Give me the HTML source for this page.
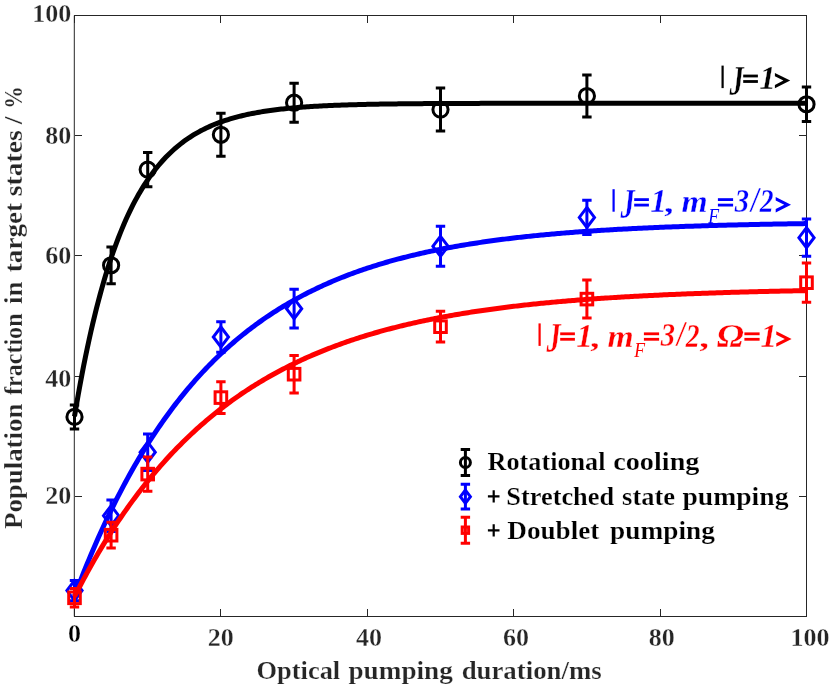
<!DOCTYPE html>
<html><head><meta charset="utf-8"><title>Optical pumping</title>
<style>html,body{margin:0;padding:0;background:#fff;}body{width:830px;height:686px;overflow:hidden;font-family:"Liberation Serif",serif;}svg{display:block;will-change:transform;}</style>
</head><body>
<svg width="830" height="686" viewBox="0 0 830 686">
<rect width="830" height="686" fill="#fff"/>
<g stroke="#262626" stroke-width="1" fill="none" shape-rendering="crispEdges">
<path d="M74.0 15.5H807.0M74.0 616.5H807.0M806.5 15.5V616.5"/>
<path d="M74.5 616.5v-7.5M74.5 15.5v7.5"/>
<path d="M74.5 616.5h7.5M806.5 616.5h-7.5"/>
<path d="M220.5 616.5v-7.5M220.5 15.5v7.5"/>
<path d="M74.5 496.5h7.5M806.5 496.5h-7.5"/>
<path d="M367.5 616.5v-7.5M367.5 15.5v7.5"/>
<path d="M74.5 376.5h7.5M806.5 376.5h-7.5"/>
<path d="M513.5 616.5v-7.5M513.5 15.5v7.5"/>
<path d="M74.5 255.5h7.5M806.5 255.5h-7.5"/>
<path d="M660.5 616.5v-7.5M660.5 15.5v7.5"/>
<path d="M74.5 135.5h7.5M806.5 135.5h-7.5"/>
<path d="M806.5 616.5v-7.5M806.5 15.5v7.5"/>
<path d="M74.5 15.5h7.5M806.5 15.5h-7.5"/>
</g>
<path d="M74.3 15.5V616.5" stroke="#262626" stroke-width="1" fill="none"/>
<g font-family="Liberation Serif, serif" font-weight="bold" font-size="26" stroke="#fff" stroke-width="0.3" paint-order="fill stroke">
<text x="220.80" y="645.80" text-anchor="middle" fill="#262626">20</text>
<text x="369.10" y="645.80" text-anchor="middle" fill="#262626">40</text>
<text x="516.10" y="645.80" text-anchor="middle" fill="#262626">60</text>
<text x="661.80" y="645.80" text-anchor="middle" fill="#262626">80</text>
<text x="790.60" y="645.80" text-anchor="start" fill="#262626">100</text>
<text x="71.30" y="503.70" text-anchor="end" fill="#262626">20</text>
<text x="71.30" y="386.70" text-anchor="end" fill="#262626">40</text>
<text x="71.30" y="263.70" text-anchor="end" fill="#262626">60</text>
<text x="71.30" y="143.70" text-anchor="end" fill="#262626">80</text>
<text x="71.30" y="21.70" text-anchor="end" fill="#262626">100</text>
<text x="74.50" y="642.40" text-anchor="middle" fill="#000">0</text>
</g>
<text transform="translate(256.48 678.50) scale(0.2645 0.2600)" font-family="Liberation Serif, serif" font-weight="bold" font-size="100" fill="#262626" stroke="#fff" stroke-width="0.9" paint-order="fill stroke">Optical</text>
<text transform="translate(348.49 678.50) scale(0.2722 0.2600)" font-family="Liberation Serif, serif" font-weight="bold" font-size="100" fill="#262626" stroke="#fff" stroke-width="0.9" paint-order="fill stroke">pumping</text>
<text transform="translate(461.63 678.50) scale(0.2682 0.2600)" font-family="Liberation Serif, serif" font-weight="bold" font-size="100" fill="#262626" stroke="#fff" stroke-width="0.9" paint-order="fill stroke">duration/ms</text>
<g transform="translate(21.7 529.0) rotate(-90)">
<text transform="translate(-0.00 0.00) scale(0.2686 0.2600)" font-family="Liberation Serif, serif" font-weight="bold" font-size="100" fill="#262626" stroke="#fff" stroke-width="0.9" paint-order="fill stroke">Population</text>
<text transform="translate(133.98 0.00) scale(0.2410 0.2600)" font-family="Liberation Serif, serif" font-weight="bold" font-size="100" fill="#262626" stroke="#fff" stroke-width="0.9" paint-order="fill stroke">fraction</text>
<text transform="translate(224.96 0.00) scale(0.2687 0.2600)" font-family="Liberation Serif, serif" font-weight="bold" font-size="100" fill="#262626" stroke="#fff" stroke-width="0.9" paint-order="fill stroke">in</text>
<text transform="translate(256.79 0.00) scale(0.2718 0.2600)" font-family="Liberation Serif, serif" font-weight="bold" font-size="100" fill="#262626" stroke="#fff" stroke-width="0.9" paint-order="fill stroke">target</text>
<text transform="translate(332.87 0.00) scale(0.2758 0.2600)" font-family="Liberation Serif, serif" font-weight="bold" font-size="100" fill="#262626" stroke="#fff" stroke-width="0.9" paint-order="fill stroke">states</text>
<text transform="translate(404.68 0.00) scale(0.2814 0.2600)" font-family="Liberation Serif, serif" font-weight="bold" font-size="100" fill="#262626" stroke="#fff" stroke-width="0.9" paint-order="fill stroke">/</text>
<text transform="translate(420.14 0.00) scale(0.2250 0.2600)" font-family="Liberation Serif, serif" font-weight="bold" font-size="100" fill="#262626" stroke="#fff" stroke-width="0.9" paint-order="fill stroke">%</text>
</g>
<path d="M74.50 404.90V428.90M69.80 404.90h9.4M69.80 428.90h9.4" stroke="#000" stroke-width="3" fill="none"/>
<circle cx="74.50" cy="416.90" r="7.60" fill="none" stroke="#000" stroke-width="3"/>
<path d="M111.10 246.90V283.70M106.40 246.90h9.4M106.40 283.70h9.4" stroke="#000" stroke-width="3" fill="none"/>
<circle cx="111.10" cy="265.30" r="7.60" fill="none" stroke="#000" stroke-width="3"/>
<path d="M147.70 152.50V186.70M143.00 152.50h9.4M143.00 186.70h9.4" stroke="#000" stroke-width="3" fill="none"/>
<circle cx="147.70" cy="169.60" r="7.60" fill="none" stroke="#000" stroke-width="3"/>
<path d="M220.90 113.30V156.30M216.20 113.30h9.4M216.20 156.30h9.4" stroke="#000" stroke-width="3" fill="none"/>
<circle cx="220.90" cy="134.80" r="7.60" fill="none" stroke="#000" stroke-width="3"/>
<path d="M294.10 83.20V122.20M289.40 83.20h9.4M289.40 122.20h9.4" stroke="#000" stroke-width="3" fill="none"/>
<circle cx="294.10" cy="102.70" r="7.60" fill="none" stroke="#000" stroke-width="3"/>
<path d="M440.50 88.10V131.10M435.80 88.10h9.4M435.80 131.10h9.4" stroke="#000" stroke-width="3" fill="none"/>
<circle cx="440.50" cy="109.60" r="7.60" fill="none" stroke="#000" stroke-width="3"/>
<path d="M586.90 74.90V117.10M582.20 74.90h9.4M582.20 117.10h9.4" stroke="#000" stroke-width="3" fill="none"/>
<circle cx="586.90" cy="96.00" r="7.60" fill="none" stroke="#000" stroke-width="3"/>
<path d="M806.50 87.10V121.50M801.80 87.10h9.4M801.80 121.50h9.4" stroke="#000" stroke-width="3" fill="none"/>
<circle cx="806.50" cy="104.30" r="7.60" fill="none" stroke="#000" stroke-width="3"/>
<path d="M74.50 416.37 L76.33 405.53 L78.16 395.07 L79.99 384.98 L81.82 375.23 L83.65 365.82 L85.48 356.74 L87.31 347.97 L89.14 339.50 L90.97 331.32 L92.80 323.43 L94.63 315.81 L96.46 308.46 L98.29 301.36 L100.12 294.51 L101.95 287.89 L103.78 281.50 L105.61 275.33 L107.44 269.38 L109.27 263.63 L111.10 258.08 L112.93 252.72 L114.76 247.55 L116.59 242.56 L118.42 237.74 L120.25 233.09 L122.08 228.59 L123.91 224.26 L125.74 220.07 L127.57 216.03 L129.40 212.13 L131.23 208.36 L133.06 204.72 L134.89 201.21 L136.72 197.82 L138.55 194.55 L140.38 191.39 L142.21 188.34 L144.04 185.40 L145.87 182.55 L147.70 179.81 L149.53 177.16 L151.36 174.60 L153.19 172.14 L155.02 169.75 L156.85 167.45 L158.68 165.23 L160.51 163.09 L162.34 161.01 L164.17 159.02 L166.00 157.09 L167.83 155.22 L169.66 153.43 L171.49 151.69 L173.32 150.01 L175.15 148.40 L176.98 146.83 L178.81 145.32 L180.64 143.87 L182.47 142.46 L184.30 141.11 L186.13 139.80 L187.96 138.53 L189.79 137.31 L191.62 136.13 L193.45 134.99 L195.28 133.90 L197.11 132.84 L198.94 131.81 L200.77 130.82 L202.60 129.87 L204.43 128.95 L206.26 128.06 L208.09 127.20 L209.92 126.37 L211.75 125.57 L213.58 124.80 L215.41 124.05 L217.24 123.33 L219.07 122.64 L220.90 121.97 L222.73 121.32 L224.56 120.69 L226.39 120.09 L228.22 119.51 L230.05 118.95 L231.88 118.40 L233.71 117.88 L235.54 117.37 L237.37 116.88 L239.20 116.41 L241.03 115.96 L242.86 115.52 L244.69 115.09 L246.52 114.68 L248.35 114.29 L250.18 113.90 L252.01 113.54 L253.84 113.18 L255.67 112.84 L257.50 112.50 L259.33 112.18 L261.16 111.87 L262.99 111.58 L264.82 111.29 L266.65 111.01 L268.48 110.74 L270.31 110.48 L272.14 110.23 L273.97 109.99 L275.80 109.76 L277.63 109.53 L279.46 109.31 L281.29 109.10 L283.12 108.90 L284.95 108.71 L286.78 108.52 L288.61 108.33 L290.44 108.16 L292.27 107.99 L294.10 107.82 L295.93 107.67 L297.76 107.51 L299.59 107.36 L301.42 107.22 L303.25 107.08 L305.08 106.95 L306.91 106.82 L308.74 106.70 L310.57 106.58 L312.40 106.47 L314.23 106.35 L316.06 106.25 L317.89 106.14 L319.72 106.04 L321.55 105.95 L323.38 105.85 L325.21 105.76 L327.04 105.67 L328.87 105.59 L330.70 105.51 L332.53 105.43 L334.36 105.36 L336.19 105.28 L338.02 105.21 L339.85 105.14 L341.68 105.08 L343.51 105.02 L345.34 104.95 L347.17 104.89 L349.00 104.84 L350.83 104.78 L352.66 104.73 L354.49 104.68 L356.32 104.63 L358.15 104.58 L359.98 104.53 L361.81 104.49 L363.64 104.45 L365.47 104.41 L367.30 104.37 L369.13 104.33 L370.96 104.29 L372.79 104.25 L374.62 104.22 L376.45 104.18 L378.28 104.15 L380.11 104.12 L381.94 104.09 L383.77 104.06 L385.60 104.03 L387.43 104.01 L389.26 103.98 L391.09 103.95 L392.92 103.93 L394.75 103.91 L396.58 103.88 L398.41 103.86 L400.24 103.84 L402.07 103.82 L403.90 103.80 L405.73 103.78 L407.56 103.76 L409.39 103.74 L411.22 103.73 L413.05 103.71 L414.88 103.69 L416.71 103.68 L418.54 103.66 L420.37 103.65 L422.20 103.64 L424.03 103.62 L425.86 103.61 L427.69 103.60 L429.52 103.58 L431.35 103.57 L433.18 103.56 L435.01 103.55 L436.84 103.54 L438.67 103.53 L440.50 103.52 L442.33 103.51 L444.16 103.50 L445.99 103.49 L447.82 103.48 L449.65 103.48 L451.48 103.47 L453.31 103.46 L455.14 103.45 L456.97 103.45 L458.80 103.44 L460.63 103.43 L462.46 103.43 L464.29 103.42 L466.12 103.41 L467.95 103.41 L469.78 103.40 L471.61 103.40 L473.44 103.39 L475.27 103.39 L477.10 103.38 L478.93 103.38 L480.76 103.37 L482.59 103.37 L484.42 103.36 L486.25 103.36 L488.08 103.36 L489.91 103.35 L491.74 103.35 L493.57 103.34 L495.40 103.34 L497.23 103.34 L499.06 103.33 L500.89 103.33 L502.72 103.33 L504.55 103.33 L506.38 103.32 L508.21 103.32 L510.04 103.32 L511.87 103.32 L513.70 103.31 L515.53 103.31 L517.36 103.31 L519.19 103.31 L521.02 103.30 L522.85 103.30 L524.68 103.30 L526.51 103.30 L528.34 103.30 L530.17 103.29 L532.00 103.29 L533.83 103.29 L535.66 103.29 L537.49 103.29 L539.32 103.29 L541.15 103.29 L542.98 103.28 L544.81 103.28 L546.64 103.28 L548.47 103.28 L550.30 103.28 L552.13 103.28 L553.96 103.28 L555.79 103.28 L557.62 103.27 L559.45 103.27 L561.28 103.27 L563.11 103.27 L564.94 103.27 L566.77 103.27 L568.60 103.27 L570.43 103.27 L572.26 103.27 L574.09 103.27 L575.92 103.27 L577.75 103.27 L579.58 103.26 L581.41 103.26 L583.24 103.26 L585.07 103.26 L586.90 103.26 L588.73 103.26 L590.56 103.26 L592.39 103.26 L594.22 103.26 L596.05 103.26 L597.88 103.26 L599.71 103.26 L601.54 103.26 L603.37 103.26 L605.20 103.26 L607.03 103.26 L608.86 103.26 L610.69 103.26 L612.52 103.26 L614.35 103.26 L616.18 103.26 L618.01 103.25 L619.84 103.25 L621.67 103.25 L623.50 103.25 L625.33 103.25 L627.16 103.25 L628.99 103.25 L630.82 103.25 L632.65 103.25 L634.48 103.25 L636.31 103.25 L638.14 103.25 L639.97 103.25 L641.80 103.25 L643.63 103.25 L645.46 103.25 L647.29 103.25 L649.12 103.25 L650.95 103.25 L652.78 103.25 L654.61 103.25 L656.44 103.25 L658.27 103.25 L660.10 103.25 L661.93 103.25 L663.76 103.25 L665.59 103.25 L667.42 103.25 L669.25 103.25 L671.08 103.25 L672.91 103.25 L674.74 103.25 L676.57 103.25 L678.40 103.25 L680.23 103.25 L682.06 103.25 L683.89 103.25 L685.72 103.25 L687.55 103.25 L689.38 103.25 L691.21 103.25 L693.04 103.25 L694.87 103.25 L696.70 103.25 L698.53 103.25 L700.36 103.25 L702.19 103.25 L704.02 103.25 L705.85 103.25 L707.68 103.25 L709.51 103.25 L711.34 103.25 L713.17 103.25 L715.00 103.25 L716.83 103.25 L718.66 103.25 L720.49 103.25 L722.32 103.25 L724.15 103.25 L725.98 103.25 L727.81 103.25 L729.64 103.25 L731.47 103.25 L733.30 103.25 L735.13 103.25 L736.96 103.25 L738.79 103.25 L740.62 103.25 L742.45 103.25 L744.28 103.25 L746.11 103.25 L747.94 103.25 L749.77 103.25 L751.60 103.25 L753.43 103.25 L755.26 103.25 L757.09 103.25 L758.92 103.25 L760.75 103.25 L762.58 103.25 L764.41 103.25 L766.24 103.25 L768.07 103.25 L769.90 103.25 L771.73 103.25 L773.56 103.25 L775.39 103.25 L777.22 103.25 L779.05 103.25 L780.88 103.25 L782.71 103.25 L784.54 103.25 L786.37 103.25 L788.20 103.25 L790.03 103.25 L791.86 103.25 L793.69 103.25 L795.52 103.25 L797.35 103.25 L799.18 103.25 L801.01 103.25 L802.84 103.25 L804.67 103.25 L806.50 103.25" fill="none" stroke="#000" stroke-width="5" stroke-linejoin="round"/>
<path d="M74.50 580.40V600.80M69.80 580.40h9.4M69.80 600.80h9.4" stroke="#00f" stroke-width="3" fill="none"/>
<path d="M74.50 580.60L82.10 590.60L74.50 600.60L66.90 590.60Z" fill="none" stroke="#00f" stroke-width="3" stroke-linejoin="miter"/>
<path d="M111.10 500.00V531.40M106.40 500.00h9.4M106.40 531.40h9.4" stroke="#00f" stroke-width="3" fill="none"/>
<path d="M111.10 505.70L118.70 515.70L111.10 525.70L103.50 515.70Z" fill="none" stroke="#00f" stroke-width="3" stroke-linejoin="miter"/>
<path d="M147.70 434.00V470.40M143.00 434.00h9.4M143.00 470.40h9.4" stroke="#00f" stroke-width="3" fill="none"/>
<path d="M147.70 442.20L155.30 452.20L147.70 462.20L140.10 452.20Z" fill="none" stroke="#00f" stroke-width="3" stroke-linejoin="miter"/>
<path d="M220.90 321.70V352.30M216.20 321.70h9.4M216.20 352.30h9.4" stroke="#00f" stroke-width="3" fill="none"/>
<path d="M220.90 327.00L228.50 337.00L220.90 347.00L213.30 337.00Z" fill="none" stroke="#00f" stroke-width="3" stroke-linejoin="miter"/>
<path d="M294.10 289.30V328.10M289.40 289.30h9.4M289.40 328.10h9.4" stroke="#00f" stroke-width="3" fill="none"/>
<path d="M294.10 298.70L301.70 308.70L294.10 318.70L286.50 308.70Z" fill="none" stroke="#00f" stroke-width="3" stroke-linejoin="miter"/>
<path d="M440.50 226.30V266.30M435.80 226.30h9.4M435.80 266.30h9.4" stroke="#00f" stroke-width="3" fill="none"/>
<path d="M440.50 236.30L448.10 246.30L440.50 256.30L432.90 246.30Z" fill="none" stroke="#00f" stroke-width="3" stroke-linejoin="miter"/>
<path d="M586.90 200.20V234.60M582.20 200.20h9.4M582.20 234.60h9.4" stroke="#00f" stroke-width="3" fill="none"/>
<path d="M586.90 207.40L594.50 217.40L586.90 227.40L579.30 217.40Z" fill="none" stroke="#00f" stroke-width="3" stroke-linejoin="miter"/>
<path d="M806.50 219.10V256.30M801.80 219.10h9.4M801.80 256.30h9.4" stroke="#00f" stroke-width="3" fill="none"/>
<path d="M806.50 227.70L814.10 237.70L806.50 247.70L798.90 237.70Z" fill="none" stroke="#00f" stroke-width="3" stroke-linejoin="miter"/>
<path d="M74.50 596.13 L76.33 591.28 L78.16 586.50 L79.99 581.78 L81.82 577.12 L83.65 572.53 L85.48 567.99 L87.31 563.51 L89.14 559.09 L90.97 554.72 L92.80 550.41 L94.63 546.16 L96.46 541.96 L98.29 537.82 L100.12 533.73 L101.95 529.69 L103.78 525.71 L105.61 521.78 L107.44 517.89 L109.27 514.06 L111.10 510.28 L112.93 506.55 L114.76 502.86 L116.59 499.22 L118.42 495.63 L120.25 492.09 L122.08 488.59 L123.91 485.14 L125.74 481.73 L127.57 478.36 L129.40 475.04 L131.23 471.77 L133.06 468.53 L134.89 465.34 L136.72 462.18 L138.55 459.07 L140.38 456.00 L142.21 452.97 L144.04 449.98 L145.87 447.02 L147.70 444.11 L149.53 441.23 L151.36 438.39 L153.19 435.58 L155.02 432.82 L156.85 430.08 L158.68 427.39 L160.51 424.73 L162.34 422.10 L164.17 419.51 L166.00 416.95 L167.83 414.42 L169.66 411.92 L171.49 409.46 L173.32 407.03 L175.15 404.63 L176.98 402.27 L178.81 399.93 L180.64 397.62 L182.47 395.35 L184.30 393.10 L186.13 390.88 L187.96 388.69 L189.79 386.53 L191.62 384.40 L193.45 382.29 L195.28 380.21 L197.11 378.16 L198.94 376.13 L200.77 374.13 L202.60 372.16 L204.43 370.21 L206.26 368.29 L208.09 366.39 L209.92 364.52 L211.75 362.67 L213.58 360.85 L215.41 359.04 L217.24 357.27 L219.07 355.51 L220.90 353.78 L222.73 352.07 L224.56 350.38 L226.39 348.72 L228.22 347.07 L230.05 345.45 L231.88 343.85 L233.71 342.26 L235.54 340.70 L237.37 339.16 L239.20 337.64 L241.03 336.14 L242.86 334.66 L244.69 333.19 L246.52 331.75 L248.35 330.33 L250.18 328.92 L252.01 327.53 L253.84 326.16 L255.67 324.81 L257.50 323.47 L259.33 322.15 L261.16 320.85 L262.99 319.57 L264.82 318.30 L266.65 317.05 L268.48 315.81 L270.31 314.59 L272.14 313.39 L273.97 312.20 L275.80 311.03 L277.63 309.87 L279.46 308.73 L281.29 307.60 L283.12 306.49 L284.95 305.39 L286.78 304.31 L288.61 303.24 L290.44 302.18 L292.27 301.14 L294.10 300.11 L295.93 299.09 L297.76 298.09 L299.59 297.10 L301.42 296.12 L303.25 295.16 L305.08 294.21 L306.91 293.27 L308.74 292.34 L310.57 291.42 L312.40 290.52 L314.23 289.63 L316.06 288.75 L317.89 287.88 L319.72 287.02 L321.55 286.17 L323.38 285.34 L325.21 284.51 L327.04 283.70 L328.87 282.89 L330.70 282.10 L332.53 281.32 L334.36 280.54 L336.19 279.78 L338.02 279.03 L339.85 278.28 L341.68 277.55 L343.51 276.82 L345.34 276.11 L347.17 275.40 L349.00 274.71 L350.83 274.02 L352.66 273.34 L354.49 272.67 L356.32 272.01 L358.15 271.36 L359.98 270.71 L361.81 270.08 L363.64 269.45 L365.47 268.83 L367.30 268.22 L369.13 267.61 L370.96 267.02 L372.79 266.43 L374.62 265.85 L376.45 265.28 L378.28 264.71 L380.11 264.15 L381.94 263.60 L383.77 263.06 L385.60 262.52 L387.43 261.99 L389.26 261.47 L391.09 260.95 L392.92 260.44 L394.75 259.94 L396.58 259.44 L398.41 258.95 L400.24 258.47 L402.07 257.99 L403.90 257.52 L405.73 257.05 L407.56 256.59 L409.39 256.14 L411.22 255.69 L413.05 255.25 L414.88 254.81 L416.71 254.38 L418.54 253.96 L420.37 253.54 L422.20 253.12 L424.03 252.72 L425.86 252.31 L427.69 251.91 L429.52 251.52 L431.35 251.13 L433.18 250.75 L435.01 250.37 L436.84 250.00 L438.67 249.63 L440.50 249.27 L442.33 248.91 L444.16 248.55 L445.99 248.21 L447.82 247.86 L449.65 247.52 L451.48 247.18 L453.31 246.85 L455.14 246.52 L456.97 246.20 L458.80 245.88 L460.63 245.57 L462.46 245.26 L464.29 244.95 L466.12 244.65 L467.95 244.35 L469.78 244.05 L471.61 243.76 L473.44 243.47 L475.27 243.19 L477.10 242.91 L478.93 242.63 L480.76 242.36 L482.59 242.09 L484.42 241.82 L486.25 241.56 L488.08 241.30 L489.91 241.05 L491.74 240.79 L493.57 240.55 L495.40 240.30 L497.23 240.06 L499.06 239.82 L500.89 239.58 L502.72 239.35 L504.55 239.12 L506.38 238.89 L508.21 238.66 L510.04 238.44 L511.87 238.22 L513.70 238.01 L515.53 237.80 L517.36 237.58 L519.19 237.38 L521.02 237.17 L522.85 236.97 L524.68 236.77 L526.51 236.57 L528.34 236.38 L530.17 236.19 L532.00 236.00 L533.83 235.81 L535.66 235.62 L537.49 235.44 L539.32 235.26 L541.15 235.08 L542.98 234.91 L544.81 234.74 L546.64 234.57 L548.47 234.40 L550.30 234.23 L552.13 234.07 L553.96 233.90 L555.79 233.74 L557.62 233.59 L559.45 233.43 L561.28 233.28 L563.11 233.12 L564.94 232.97 L566.77 232.83 L568.60 232.68 L570.43 232.54 L572.26 232.39 L574.09 232.25 L575.92 232.11 L577.75 231.98 L579.58 231.84 L581.41 231.71 L583.24 231.58 L585.07 231.45 L586.90 231.32 L588.73 231.19 L590.56 231.07 L592.39 230.94 L594.22 230.82 L596.05 230.70 L597.88 230.58 L599.71 230.47 L601.54 230.35 L603.37 230.24 L605.20 230.12 L607.03 230.01 L608.86 229.90 L610.69 229.79 L612.52 229.69 L614.35 229.58 L616.18 229.48 L618.01 229.37 L619.84 229.27 L621.67 229.17 L623.50 229.07 L625.33 228.98 L627.16 228.88 L628.99 228.78 L630.82 228.69 L632.65 228.60 L634.48 228.51 L636.31 228.42 L638.14 228.33 L639.97 228.24 L641.80 228.15 L643.63 228.07 L645.46 227.98 L647.29 227.90 L649.12 227.82 L650.95 227.73 L652.78 227.65 L654.61 227.57 L656.44 227.50 L658.27 227.42 L660.10 227.34 L661.93 227.27 L663.76 227.19 L665.59 227.12 L667.42 227.05 L669.25 226.98 L671.08 226.91 L672.91 226.84 L674.74 226.77 L676.57 226.70 L678.40 226.63 L680.23 226.57 L682.06 226.50 L683.89 226.44 L685.72 226.37 L687.55 226.31 L689.38 226.25 L691.21 226.19 L693.04 226.13 L694.87 226.07 L696.70 226.01 L698.53 225.95 L700.36 225.89 L702.19 225.84 L704.02 225.78 L705.85 225.73 L707.68 225.67 L709.51 225.62 L711.34 225.57 L713.17 225.51 L715.00 225.46 L716.83 225.41 L718.66 225.36 L720.49 225.31 L722.32 225.26 L724.15 225.21 L725.98 225.17 L727.81 225.12 L729.64 225.07 L731.47 225.03 L733.30 224.98 L735.13 224.94 L736.96 224.89 L738.79 224.85 L740.62 224.81 L742.45 224.76 L744.28 224.72 L746.11 224.68 L747.94 224.64 L749.77 224.60 L751.60 224.56 L753.43 224.52 L755.26 224.48 L757.09 224.44 L758.92 224.41 L760.75 224.37 L762.58 224.33 L764.41 224.29 L766.24 224.26 L768.07 224.22 L769.90 224.19 L771.73 224.15 L773.56 224.12 L775.39 224.09 L777.22 224.05 L779.05 224.02 L780.88 223.99 L782.71 223.96 L784.54 223.93 L786.37 223.89 L788.20 223.86 L790.03 223.83 L791.86 223.80 L793.69 223.77 L795.52 223.74 L797.35 223.72 L799.18 223.69 L801.01 223.66 L802.84 223.63 L804.67 223.60 L806.50 223.58" fill="none" stroke="#00f" stroke-width="5" stroke-linejoin="round"/>
<path d="M74.50 588.60V607.00M69.80 588.60h9.4M69.80 607.00h9.4" stroke="#f00" stroke-width="3" fill="none"/>
<rect x="68.70" y="592.00" width="11.60" height="11.60" fill="none" stroke="#f00" stroke-width="3"/>
<path d="M111.10 522.30V548.10M106.40 522.30h9.4M106.40 548.10h9.4" stroke="#f00" stroke-width="3" fill="none"/>
<rect x="105.30" y="529.40" width="11.60" height="11.60" fill="none" stroke="#f00" stroke-width="3"/>
<path d="M147.70 457.00V491.20M143.00 457.00h9.4M143.00 491.20h9.4" stroke="#f00" stroke-width="3" fill="none"/>
<rect x="141.90" y="468.30" width="11.60" height="11.60" fill="none" stroke="#f00" stroke-width="3"/>
<path d="M220.90 381.80V413.40M216.20 381.80h9.4M216.20 413.40h9.4" stroke="#f00" stroke-width="3" fill="none"/>
<rect x="215.10" y="391.80" width="11.60" height="11.60" fill="none" stroke="#f00" stroke-width="3"/>
<path d="M294.10 355.50V392.90M289.40 355.50h9.4M289.40 392.90h9.4" stroke="#f00" stroke-width="3" fill="none"/>
<rect x="288.30" y="368.40" width="11.60" height="11.60" fill="none" stroke="#f00" stroke-width="3"/>
<path d="M440.50 311.35V342.05M435.80 311.35h9.4M435.80 342.05h9.4" stroke="#f00" stroke-width="3" fill="none"/>
<rect x="434.70" y="320.90" width="11.60" height="11.60" fill="none" stroke="#f00" stroke-width="3"/>
<path d="M586.90 280.10V318.10M582.20 280.10h9.4M582.20 318.10h9.4" stroke="#f00" stroke-width="3" fill="none"/>
<rect x="581.10" y="293.30" width="11.60" height="11.60" fill="none" stroke="#f00" stroke-width="3"/>
<path d="M806.50 263.05V302.35M801.80 263.05h9.4M801.80 302.35h9.4" stroke="#f00" stroke-width="3" fill="none"/>
<rect x="800.70" y="276.90" width="11.60" height="11.60" fill="none" stroke="#f00" stroke-width="3"/>
<path d="M74.50 596.67 L76.33 593.07 L78.16 589.52 L79.99 586.00 L81.82 582.53 L83.65 579.10 L85.48 575.71 L87.31 572.36 L89.14 569.04 L90.97 565.77 L92.80 562.53 L94.63 559.33 L96.46 556.17 L98.29 553.05 L100.12 549.96 L101.95 546.91 L103.78 543.89 L105.61 540.91 L107.44 537.96 L109.27 535.05 L111.10 532.17 L112.93 529.32 L114.76 526.51 L116.59 523.73 L118.42 520.98 L120.25 518.27 L122.08 515.59 L123.91 512.93 L125.74 510.31 L127.57 507.72 L129.40 505.16 L131.23 502.63 L133.06 500.13 L134.89 497.66 L136.72 495.21 L138.55 492.80 L140.38 490.41 L142.21 488.05 L144.04 485.72 L145.87 483.41 L147.70 481.14 L149.53 478.89 L151.36 476.66 L153.19 474.46 L155.02 472.29 L156.85 470.14 L158.68 468.02 L160.51 465.92 L162.34 463.84 L164.17 461.79 L166.00 459.77 L167.83 457.77 L169.66 455.79 L171.49 453.83 L173.32 451.90 L175.15 449.99 L176.98 448.10 L178.81 446.23 L180.64 444.39 L182.47 442.56 L184.30 440.76 L186.13 438.98 L187.96 437.22 L189.79 435.48 L191.62 433.76 L193.45 432.06 L195.28 430.38 L197.11 428.72 L198.94 427.08 L200.77 425.46 L202.60 423.85 L204.43 422.27 L206.26 420.70 L208.09 419.16 L209.92 417.63 L211.75 416.11 L213.58 414.62 L215.41 413.14 L217.24 411.68 L219.07 410.24 L220.90 408.81 L222.73 407.40 L224.56 406.01 L226.39 404.64 L228.22 403.27 L230.05 401.93 L231.88 400.60 L233.71 399.29 L235.54 397.99 L237.37 396.71 L239.20 395.44 L241.03 394.18 L242.86 392.94 L244.69 391.72 L246.52 390.51 L248.35 389.31 L250.18 388.13 L252.01 386.96 L253.84 385.81 L255.67 384.67 L257.50 383.54 L259.33 382.42 L261.16 381.32 L262.99 380.23 L264.82 379.15 L266.65 378.09 L268.48 377.04 L270.31 376.00 L272.14 374.97 L273.97 373.96 L275.80 372.95 L277.63 371.96 L279.46 370.98 L281.29 370.01 L283.12 369.05 L284.95 368.11 L286.78 367.17 L288.61 366.25 L290.44 365.33 L292.27 364.43 L294.10 363.54 L295.93 362.66 L297.76 361.78 L299.59 360.92 L301.42 360.07 L303.25 359.23 L305.08 358.40 L306.91 357.57 L308.74 356.76 L310.57 355.96 L312.40 355.16 L314.23 354.38 L316.06 353.60 L317.89 352.84 L319.72 352.08 L321.55 351.33 L323.38 350.59 L325.21 349.86 L327.04 349.14 L328.87 348.42 L330.70 347.72 L332.53 347.02 L334.36 346.33 L336.19 345.65 L338.02 344.97 L339.85 344.31 L341.68 343.65 L343.51 343.00 L345.34 342.35 L347.17 341.72 L349.00 341.09 L350.83 340.47 L352.66 339.86 L354.49 339.25 L356.32 338.65 L358.15 338.06 L359.98 337.47 L361.81 336.89 L363.64 336.32 L365.47 335.75 L367.30 335.20 L369.13 334.64 L370.96 334.10 L372.79 333.56 L374.62 333.02 L376.45 332.50 L378.28 331.98 L380.11 331.46 L381.94 330.95 L383.77 330.45 L385.60 329.95 L387.43 329.46 L389.26 328.98 L391.09 328.50 L392.92 328.02 L394.75 327.55 L396.58 327.09 L398.41 326.63 L400.24 326.18 L402.07 325.73 L403.90 325.29 L405.73 324.85 L407.56 324.42 L409.39 323.99 L411.22 323.57 L413.05 323.16 L414.88 322.74 L416.71 322.34 L418.54 321.93 L420.37 321.54 L422.20 321.14 L424.03 320.75 L425.86 320.37 L427.69 319.99 L429.52 319.61 L431.35 319.24 L433.18 318.88 L435.01 318.51 L436.84 318.16 L438.67 317.80 L440.50 317.45 L442.33 317.11 L444.16 316.77 L445.99 316.43 L447.82 316.09 L449.65 315.76 L451.48 315.44 L453.31 315.12 L455.14 314.80 L456.97 314.48 L458.80 314.17 L460.63 313.86 L462.46 313.56 L464.29 313.26 L466.12 312.96 L467.95 312.67 L469.78 312.38 L471.61 312.09 L473.44 311.81 L475.27 311.53 L477.10 311.25 L478.93 310.98 L480.76 310.71 L482.59 310.44 L484.42 310.18 L486.25 309.92 L488.08 309.66 L489.91 309.40 L491.74 309.15 L493.57 308.90 L495.40 308.66 L497.23 308.41 L499.06 308.17 L500.89 307.93 L502.72 307.70 L504.55 307.47 L506.38 307.24 L508.21 307.01 L510.04 306.79 L511.87 306.56 L513.70 306.35 L515.53 306.13 L517.36 305.92 L519.19 305.70 L521.02 305.49 L522.85 305.29 L524.68 305.08 L526.51 304.88 L528.34 304.68 L530.17 304.49 L532.00 304.29 L533.83 304.10 L535.66 303.91 L537.49 303.72 L539.32 303.53 L541.15 303.35 L542.98 303.17 L544.81 302.99 L546.64 302.81 L548.47 302.64 L550.30 302.46 L552.13 302.29 L553.96 302.12 L555.79 301.96 L557.62 301.79 L559.45 301.63 L561.28 301.47 L563.11 301.31 L564.94 301.15 L566.77 300.99 L568.60 300.84 L570.43 300.69 L572.26 300.54 L574.09 300.39 L575.92 300.24 L577.75 300.09 L579.58 299.95 L581.41 299.81 L583.24 299.67 L585.07 299.53 L586.90 299.39 L588.73 299.26 L590.56 299.12 L592.39 298.99 L594.22 298.86 L596.05 298.73 L597.88 298.60 L599.71 298.48 L601.54 298.35 L603.37 298.23 L605.20 298.11 L607.03 297.99 L608.86 297.87 L610.69 297.75 L612.52 297.63 L614.35 297.52 L616.18 297.40 L618.01 297.29 L619.84 297.18 L621.67 297.07 L623.50 296.96 L625.33 296.85 L627.16 296.75 L628.99 296.64 L630.82 296.54 L632.65 296.44 L634.48 296.34 L636.31 296.24 L638.14 296.14 L639.97 296.04 L641.80 295.94 L643.63 295.85 L645.46 295.75 L647.29 295.66 L649.12 295.57 L650.95 295.48 L652.78 295.39 L654.61 295.30 L656.44 295.21 L658.27 295.13 L660.10 295.04 L661.93 294.95 L663.76 294.87 L665.59 294.79 L667.42 294.71 L669.25 294.62 L671.08 294.54 L672.91 294.47 L674.74 294.39 L676.57 294.31 L678.40 294.23 L680.23 294.16 L682.06 294.08 L683.89 294.01 L685.72 293.94 L687.55 293.87 L689.38 293.79 L691.21 293.72 L693.04 293.65 L694.87 293.59 L696.70 293.52 L698.53 293.45 L700.36 293.38 L702.19 293.32 L704.02 293.25 L705.85 293.19 L707.68 293.13 L709.51 293.06 L711.34 293.00 L713.17 292.94 L715.00 292.88 L716.83 292.82 L718.66 292.76 L720.49 292.70 L722.32 292.65 L724.15 292.59 L725.98 292.53 L727.81 292.48 L729.64 292.42 L731.47 292.37 L733.30 292.31 L735.13 292.26 L736.96 292.21 L738.79 292.16 L740.62 292.11 L742.45 292.05 L744.28 292.00 L746.11 291.96 L747.94 291.91 L749.77 291.86 L751.60 291.81 L753.43 291.76 L755.26 291.72 L757.09 291.67 L758.92 291.62 L760.75 291.58 L762.58 291.53 L764.41 291.49 L766.24 291.45 L768.07 291.40 L769.90 291.36 L771.73 291.32 L773.56 291.28 L775.39 291.24 L777.22 291.20 L779.05 291.16 L780.88 291.12 L782.71 291.08 L784.54 291.04 L786.37 291.00 L788.20 290.96 L790.03 290.93 L791.86 290.89 L793.69 290.85 L795.52 290.82 L797.35 290.78 L799.18 290.75 L801.01 290.71 L802.84 290.68 L804.67 290.64 L806.50 290.61" fill="none" stroke="#f00" stroke-width="5" stroke-linejoin="round"/>
<path d="M465.40 449.50V475.50M460.70 449.50h9.4M460.70 475.50h9.4" stroke="#000" stroke-width="3" fill="none"/>
<circle cx="465.4" cy="462.5" r="5" fill="none" stroke="#000" stroke-width="3"/>
<path d="M465.40 484.30V509.10M460.70 484.30h9.4M460.70 509.10h9.4" stroke="#00f" stroke-width="3" fill="none"/>
<path d="M465.4 490.09999999999997L470.4 496.7L465.4 503.3L460.4 496.7Z" fill="none" stroke="#00f" stroke-width="3"/>
<path d="M465.40 517.20V543.20M460.70 517.20h9.4M460.70 543.20h9.4" stroke="#f00" stroke-width="3" fill="none"/>
<rect x="462.2" y="527.0" width="6.4" height="6.4" fill="none" stroke="#f00" stroke-width="3"/>
<text transform="translate(487.51 470.40) scale(0.2622 0.2600)" font-family="Liberation Serif, serif" font-weight="bold" font-size="100" fill="#000" stroke="#fff" stroke-width="0.9" paint-order="fill stroke">Rotational</text>
<text transform="translate(613.21 470.40) scale(0.2824 0.2600)" font-family="Liberation Serif, serif" font-weight="bold" font-size="100" fill="#000" stroke="#fff" stroke-width="0.9" paint-order="fill stroke">cooling</text>
<text transform="translate(506.35 504.50) scale(0.2634 0.2600)" font-family="Liberation Serif, serif" font-weight="bold" font-size="100" fill="#000" stroke="#fff" stroke-width="0.9" paint-order="fill stroke">Stretched</text>
<text transform="translate(622.10 504.50) scale(0.2653 0.2600)" font-family="Liberation Serif, serif" font-weight="bold" font-size="100" fill="#000" stroke="#fff" stroke-width="0.9" paint-order="fill stroke">state</text>
<text transform="translate(682.49 504.50) scale(0.2764 0.2600)" font-family="Liberation Serif, serif" font-weight="bold" font-size="100" fill="#000" stroke="#fff" stroke-width="0.9" paint-order="fill stroke">pumping</text>
<text transform="translate(507.26 538.60) scale(0.2719 0.2600)" font-family="Liberation Serif, serif" font-weight="bold" font-size="100" fill="#000" stroke="#fff" stroke-width="0.9" paint-order="fill stroke">Doublet</text>
<text transform="translate(610.09 538.60) scale(0.2732 0.2600)" font-family="Liberation Serif, serif" font-weight="bold" font-size="100" fill="#000" stroke="#fff" stroke-width="0.9" paint-order="fill stroke">pumping</text>
<path d="M487.9 496.3H499.5M493.7 490.2V502.4" stroke="#000" stroke-width="2.2" fill="none"/>
<path d="M487.9 530.4H499.5M493.7 524.3V536.5" stroke="#000" stroke-width="2.2" fill="none"/>
<rect x="721.50" y="65.60" width="2.20" height="22.50" fill="#000"/>
<text transform="translate(729.40 94.57) scale(0.2838 0.4273)" font-family="Liberation Serif, serif" font-style="italic" font-weight="bold" font-size="100" fill="#000" stroke="#fff" stroke-width="1" paint-order="fill stroke">J</text>
<rect x="743.20" y="74.60" width="14.70" height="2.80" fill="#000"/><rect x="743.20" y="80.10" width="14.70" height="2.80" fill="#000"/>
<text transform="translate(759.17 88.70) scale(0.3307 0.3282)" font-family="Liberation Serif, serif" font-style="italic" font-weight="bold" font-size="100" fill="#000" stroke="#fff" stroke-width="1" paint-order="fill stroke">1</text>
<path d="M774.90 72.90L790.20 80.60L774.90 88.30V84.90L783.40 80.60L774.90 76.30Z" fill="#000"/>
<rect x="612.50" y="189.20" width="2.20" height="22.50" fill="#00f"/>
<text transform="translate(620.40 218.17) scale(0.2838 0.4273)" font-family="Liberation Serif, serif" font-style="italic" font-weight="bold" font-size="100" fill="#00f" stroke="#fff" stroke-width="1" paint-order="fill stroke">J</text>
<rect x="634.20" y="198.20" width="14.70" height="2.80" fill="#00f"/><rect x="634.20" y="203.70" width="14.70" height="2.80" fill="#00f"/>
<text transform="translate(650.17 212.30) scale(0.3307 0.3282)" font-family="Liberation Serif, serif" font-style="italic" font-weight="bold" font-size="100" fill="#00f" stroke="#fff" stroke-width="1" paint-order="fill stroke">1</text>
<text transform="translate(665.38 212.37) scale(0.3892 0.2667)" font-family="Liberation Serif, serif" font-style="italic" font-weight="bold" font-size="100" fill="#00f" stroke="#fff" stroke-width="1" paint-order="fill stroke">,</text>
<text transform="translate(681.43 212.40) scale(0.3366 0.3255)" font-family="Liberation Serif, serif" font-style="italic" font-weight="bold" font-size="100" fill="#00f" stroke="#fff" stroke-width="1" paint-order="fill stroke">m</text>
<text transform="translate(708.29 222.70) scale(0.1776 0.2077)" font-family="Liberation Serif, serif" font-style="italic" font-weight="normal" font-size="100" fill="#00f">F</text>
<rect x="717.90" y="198.20" width="15.20" height="2.80" fill="#00f"/><rect x="717.90" y="203.70" width="15.20" height="2.80" fill="#00f"/>
<text transform="translate(734.64 212.17) scale(0.2854 0.3299)" font-family="Liberation Serif, serif" font-style="italic" font-weight="bold" font-size="100" fill="#00f" stroke="#fff" stroke-width="1" paint-order="fill stroke">3</text>
<text transform="translate(750.90 212.15) scale(0.2829 0.3504)" font-family="Liberation Serif, serif" font-style="italic" font-weight="bold" font-size="100" fill="#00f" stroke="#fff" stroke-width="1" paint-order="fill stroke">/</text>
<text transform="translate(759.78 212.30) scale(0.2763 0.3318)" font-family="Liberation Serif, serif" font-style="italic" font-weight="bold" font-size="100" fill="#00f" stroke="#fff" stroke-width="1" paint-order="fill stroke">2</text>
<path d="M775.70 197.00L791.00 204.70L775.70 212.40V209.00L784.20 204.70L775.70 200.40Z" fill="#00f"/>
<rect x="538.50" y="323.40" width="2.20" height="22.50" fill="#f00"/>
<text transform="translate(546.40 352.37) scale(0.2838 0.4273)" font-family="Liberation Serif, serif" font-style="italic" font-weight="bold" font-size="100" fill="#f00" stroke="#fff" stroke-width="1" paint-order="fill stroke">J</text>
<rect x="560.20" y="332.40" width="14.70" height="2.80" fill="#f00"/><rect x="560.20" y="337.90" width="14.70" height="2.80" fill="#f00"/>
<text transform="translate(576.17 346.50) scale(0.3307 0.3282)" font-family="Liberation Serif, serif" font-style="italic" font-weight="bold" font-size="100" fill="#f00" stroke="#fff" stroke-width="1" paint-order="fill stroke">1</text>
<text transform="translate(591.38 346.57) scale(0.3892 0.2667)" font-family="Liberation Serif, serif" font-style="italic" font-weight="bold" font-size="100" fill="#f00" stroke="#fff" stroke-width="1" paint-order="fill stroke">,</text>
<text transform="translate(607.43 346.60) scale(0.3366 0.3255)" font-family="Liberation Serif, serif" font-style="italic" font-weight="bold" font-size="100" fill="#f00" stroke="#fff" stroke-width="1" paint-order="fill stroke">m</text>
<text transform="translate(634.29 356.90) scale(0.1776 0.2077)" font-family="Liberation Serif, serif" font-style="italic" font-weight="normal" font-size="100" fill="#f00">F</text>
<rect x="643.90" y="332.40" width="15.20" height="2.80" fill="#f00"/><rect x="643.90" y="337.90" width="15.20" height="2.80" fill="#f00"/>
<text transform="translate(660.64 346.37) scale(0.2854 0.3299)" font-family="Liberation Serif, serif" font-style="italic" font-weight="bold" font-size="100" fill="#f00" stroke="#fff" stroke-width="1" paint-order="fill stroke">3</text>
<text transform="translate(676.90 346.35) scale(0.2829 0.3504)" font-family="Liberation Serif, serif" font-style="italic" font-weight="bold" font-size="100" fill="#f00" stroke="#fff" stroke-width="1" paint-order="fill stroke">/</text>
<text transform="translate(685.78 346.50) scale(0.2763 0.3318)" font-family="Liberation Serif, serif" font-style="italic" font-weight="bold" font-size="100" fill="#f00" stroke="#fff" stroke-width="1" paint-order="fill stroke">2</text>
<text transform="translate(700.70 346.77) scale(0.4000 0.2667)" font-family="Liberation Serif, serif" font-style="italic" font-weight="bold" font-size="100" fill="#f00" stroke="#fff" stroke-width="1" paint-order="fill stroke">,</text>
<text transform="translate(716.84 346.60) scale(0.3639 0.3394)" font-family="Liberation Serif, serif" font-style="italic" font-weight="bold" font-size="100" fill="#f00" stroke="#fff" stroke-width="1" paint-order="fill stroke">Ω</text>
<rect x="744.40" y="332.40" width="15.20" height="2.80" fill="#f00"/><rect x="744.40" y="337.90" width="15.20" height="2.80" fill="#f00"/>
<text transform="translate(760.38 346.60) scale(0.3280 0.3282)" font-family="Liberation Serif, serif" font-style="italic" font-weight="bold" font-size="100" fill="#f00" stroke="#fff" stroke-width="1" paint-order="fill stroke">1</text>
<path d="M776.30 331.30L791.60 339.00L776.30 346.70V343.30L784.80 339.00L776.30 334.70Z" fill="#f00"/>
</svg>
</body></html>
